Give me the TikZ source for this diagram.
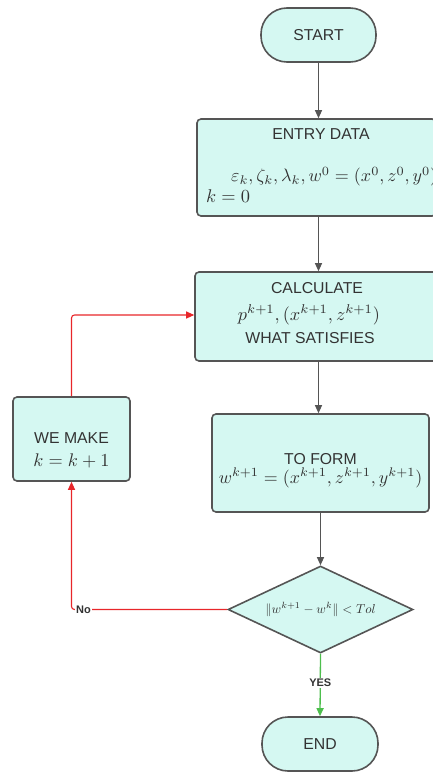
\documentclass[tikz,border=0pt]{standalone}
\usepackage{graphicx}
\usepackage{fontspec}
\setmainfont{Liberation Sans}
\usetikzlibrary{arrows.meta,shapes.geometric}
\definecolor{boxfill}{HTML}{D5F8F2}
\definecolor{boxline}{HTML}{555555}
\definecolor{redline}{HTML}{E8262A}
\definecolor{greenline}{HTML}{4DBE4D}
\definecolor{txtc}{HTML}{333333}
\newcommand\mth[2][1.83]{{\fontsize{10}{12}\selectfont\scalebox{#1}{$#2$}}}
\tikzset{
  box/.style={draw=boxline, fill=boxfill, line width=1.6pt, rounded corners=4pt, inner sep=0pt, align=center, text=txtc, font=\fontsize{15.8}{18}\selectfont},
  term/.style={box, rounded corners=26pt, minimum width=115pt, minimum height=54pt},
  dec/.style={draw=boxline, fill=boxfill, line width=1.6pt, diamond, aspect=2.1, inner sep=0pt, minimum width=185pt, minimum height=87pt, text=txtc},
  arr/.style={draw=boxline, line width=1.1pt, -{Triangle[length=8pt,width=7pt]}},
  redarr/.style={draw=redline, line width=1.1pt, rounded corners=3pt, -{Triangle[length=8pt,width=7pt]}},
  greenarr/.style={draw=greenline, line width=1.3pt, -{Triangle[length=8pt,width=7pt]}},
  lbl/.style={fill=white, inner sep=1pt, font=\bfseries\fontsize{11}{13}\selectfont, text=txtc},
  txt/.style={inner sep=0pt, text=txtc, font=\fontsize{15.8}{18}\selectfont},
}
\begin{document}
\begin{tikzpicture}[x=1pt,y=-1pt]
\useasboundingbox (0,0) rectangle (433,773);
\node[term] (start) at (318.5,35) {START};
\node[box, minimum width=239pt, minimum height=97pt] (entry) at (316.5,167.5) {};
\node[txt] (entryt) at (321,134) {ENTRY DATA};
\node[txt, anchor=west] (entrym) at (231,176.5) {\mth[1.8]{\varepsilon_k,\zeta_k,\lambda_k,w^0=(x^0,z^0,y^0)}};
\node[txt, anchor=west] (entryk) at (206,196) {\mth[1.84]{k=0}};
\node[box, minimum width=242pt, minimum height=89pt] (calc) at (316,316.5) {};
\node[txt] (calct) at (317,288) {CALCULATE};
\node[txt] (calcm) at (309,315) {\mth{p^{k+1},(x^{k+1},z^{k+1})}};
\node[txt] (calcw) at (310,338) {WHAT SATISFIES};
\node[box, minimum width=217pt, minimum height=98pt] (form) at (320.5,463) {};
\node[txt] (formt) at (320.5,459.5) {TO FORM};
\node[txt] (formm) at (320.5,478) {\mth[1.79]{w^{k+1}=(x^{k+1},z^{k+1},y^{k+1})}};
\node[box, minimum width=117pt, minimum height=84pt] (make) at (71.5,439) {};
\node[txt] (maket) at (71.5,438) {WE MAKE};
\node[txt] (makem) at (71.5,461) {\mth{k=k+1}};
\node[dec] (check) at (320.5,609.5) {\mth[1.29]{\|w^{k+1}-w^k\|<Tol}};
\node[term, minimum width=116pt] (end) at (320,744) {END};
\draw[arr] (start.south) -- (start.south |- entry.north);
\draw[arr] (entry.south -| start.south) -- (start.south |- calc.north);
\draw[arr] (calc.south -| start.south) -- (start.south |- form.north);
\draw[arr] (form.south -| check.north) -- (check.north);
\draw[greenarr] (check.south) -- (end.north) node[lbl, pos=0.47] (yes) {YES};
\draw[redarr] (check.west) -| (make.south);
\node[lbl] (no) at (83.5,609.5) {No};
\coordinate (calcin) at ([yshift=1.5pt]calc.west);
\draw[redarr] (make.north) |- (calcin);
\end{tikzpicture}
\end{document}
